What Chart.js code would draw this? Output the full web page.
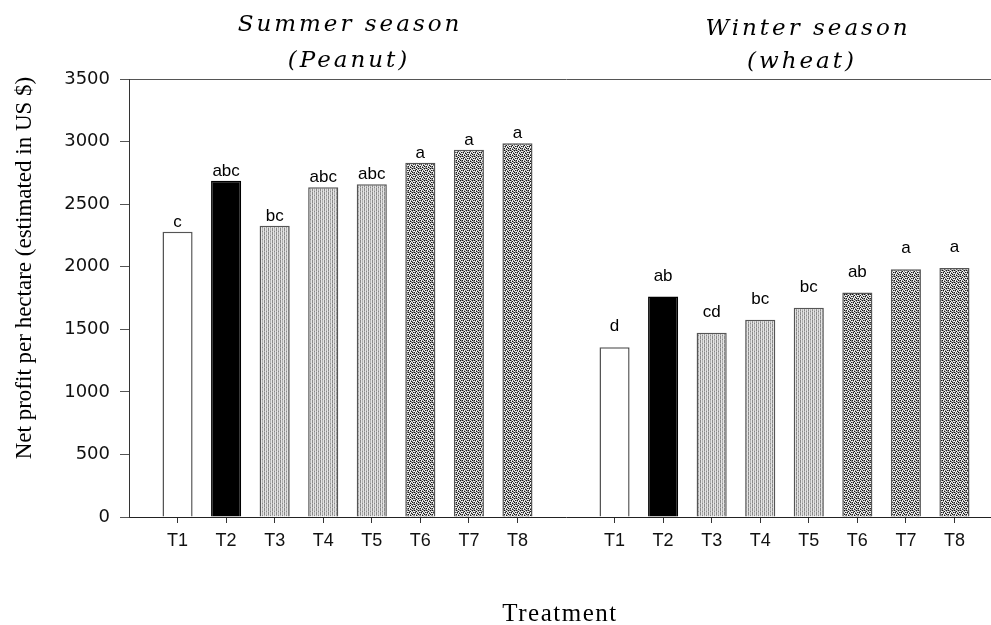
<!DOCTYPE html>
<html>
<head>
<meta charset="utf-8">
<script src="https://cdn.jsdelivr.net/npm/chart.js@4.4.1/dist/chart.umd.min.js"></script>
<style>
  html, body { margin: 0; padding: 0; background: #fff; overflow: hidden; }
  #wrap { width: 1010px; height: 625px; }
</style>
</head>
<body>
<div id="wrap"><canvas id="chart" width="1010" height="625"></canvas></div>
<script>
// values (net profit, US $ per hectare)
const treatments = ["T1", "T2", "T3", "T4", "T5", "T6", "T7", "T8"];
const summerProfit = [2280, 2687, 2328, 2635, 2658, 2831, 2935, 2986];
const winterProfit = [1356, 1761, 1473, 1577, 1673, 1793, 1979, 1990];
const summerLetters = ["c", "abc", "bc", "abc", "abc", "a", "a", "a"];
const winterLetters = ["d", "ab", "cd", "bc", "bc", "ab", "a", "a"];
const yMax = 3500;
const yStep = 500;

// fill style per treatment
const fillKind = ["white", "black", "lines", "lines", "lines", "dots", "dots", "dots"];

function makePattern(rows, colors) {
  const c = document.createElement("canvas");
  c.width = rows[0].length;
  c.height = rows.length;
  const g = c.getContext("2d");
  rows.forEach((row, y) => {
    [...row].forEach((ch, x) => {
      g.fillStyle = colors[ch];
      g.fillRect(x, y, 1, 1);
    });
  });
  return g.createPattern(c, "repeat");
}

const ctx = document.getElementById("chart").getContext("2d");
const linesFill = makePattern(
  ["dwgw", "dwgw", "dwgw", "gwdw"],
  { d: "#8a8a8a", w: "#e4e4e4", g: "#b4b4b4" }
);
const dotsFill = makePattern(
  ["kgwgkg", "wgkwgw", "gkwgwk", "wgwkgw", "kwgwkg", "gwkgwg"],
  { k: "#151515", w: "#f4f4f4", g: "#8c8c8c" }
);
const fills = { white: "#ffffff", black: "#000000", lines: linesFill, dots: dotsFill };

// category layout: leading gap, summer, gap, winter, trailing gap
const labels = ["", ...treatments, "", ...treatments, ""];
const values = [null, ...summerProfit, null, ...winterProfit, null];
const letters = ["", ...summerLetters, "", ...winterLetters, ""];
const kinds = [null, ...fillKind, null, ...fillKind, null];
const bg = kinds.map(k => (k ? fills[k] : "#fff"));
const bd = kinds.map(k => (k === "black" ? "#000" : "#555"));

const annotate = {
  id: "annotate",
  afterDatasetsDraw(chart) {
    const c = chart.ctx;
    const meta = chart.getDatasetMeta(0);
    c.save();
    c.fillStyle = "#000";
    c.font = "17px 'Liberation Sans', Arial, sans-serif";
    c.textAlign = "center";
    c.textBaseline = "alphabetic";
    meta.data.forEach((bar, i) => {
      if (!letters[i]) return;
      const gap = i < 9 ? 5 : 16;
      c.fillText(letters[i], bar.x, bar.y - gap);
    });
    c.restore();
  },
  afterDraw(chart) {
    const c = chart.ctx;
    c.save();
    c.fillStyle = "#000";
    c.textAlign = "center";
    c.textBaseline = "middle";
    c.font = "italic 23px 'DejaVu Serif', serif";
    c.letterSpacing = "3px";
    c.fillText("Summer season", 350, 25);
    c.fillText("(Peanut)", 349, 61);
    c.fillText("Winter season", 808, 29);
    c.fillText("(wheat)", 802, 62);

    c.letterSpacing = "1.5px";
    c.font = "25px 'Liberation Serif', 'Times New Roman', serif";
    c.fillText("Treatment", 560, 614);
    c.letterSpacing = "0px";

    c.translate(25, 268);
    c.rotate(-Math.PI / 2);
    c.font = "23px 'Liberation Serif', 'Times New Roman', serif";
    c.fillText("Net profit per hectare (estimated in US $)", 0, 0);
    c.restore();
  }
};

new Chart(ctx, {
  type: "bar",
  data: {
    labels: labels,
    datasets: [{
      data: values,
      backgroundColor: bg,
      borderColor: bd,
      borderWidth: 1.5,
      barPercentage: 0.62,
      categoryPercentage: 1,
      clip: false
    }]
  },
  options: {
    responsive: false,
    animation: false,
    layout: { padding: { top: 79, right: 6, left: 0, bottom: 0 } },
    plugins: { legend: { display: false }, tooltip: { enabled: false } },
    scales: {
      x: {
        offset: false,
        grid: {
          offset: false,
          drawOnChartArea: false,
          tickLength: 6,
          color: c => (c.tick && c.tick.label ? "#333" : "rgba(0,0,0,0)")
        },
        border: { color: "#222", width: 1 },
        ticks: {
          autoSkip: false,
          maxRotation: 0,
          padding: 7,
          color: "#111",
          font: { family: "'Liberation Sans', Arial, sans-serif", size: 18 }
        },
        afterFit: s => { s.height = 108; }
      },
      y: {
        min: 0,
        max: yMax,
        ticks: {
          stepSize: yStep,
          padding: 10,
          color: "#111",
          font: { family: "'DejaVu Sans', Verdana, sans-serif", size: 18 },
          callback: v => String(v)
        },
        grid: {
          color: c => (c.tick && c.tick.value === yMax ? "#555" : "rgba(0,0,0,0)"),
          tickColor: "#555",
          tickLength: 9
        },
        border: { color: "#333", width: 1 },
        afterFit: s => { s.width = 129; }
      }
    }
  },
  plugins: [annotate]
});
</script>
</body>
</html>
